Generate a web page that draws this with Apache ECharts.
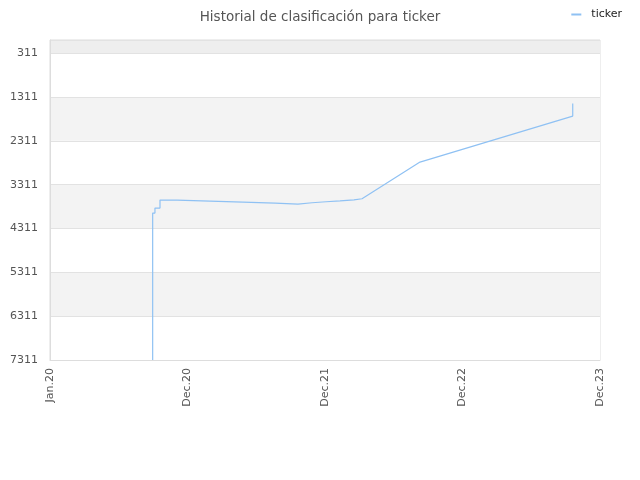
<!DOCTYPE html>
<html>
<head>
<meta charset="utf-8">
<script src="https://cdn.jsdelivr.net/npm/echarts@6/dist/echarts.min.js"></script>
<style>
    html, body { margin: 0; padding: 0; background: #fff; }
    #main { width: 640px; height: 480px; }
</style>
</head>
<body>
<div id="main"></div>
<script>
// months counted from Jan.20 (0) to Dec.23 (48)
var xTickLabels = ['Jan.20', 'Dec.20', 'Dec.21', 'Dec.22', 'Dec.23'];
var yTicks = [311, 1311, 2311, 3311, 4311, 5311, 6311, 7311];

// points of the ranking line: month, rank
var months = [8.96, 8.96, 9.16, 9.16, 9.6, 9.6, 11.08, 11.08, 13.96, 13.96, 16.84, 16.84,
    19.64, 19.64, 21.64, 21.64, 22.87, 22.87, 24.09, 24.09, 25.31, 25.31, 26.53, 26.53,
    27.23, 32.29, 45.62, 45.62];
var ranks = [7311, 3959, 3959, 3845, 3845, 3663, 3663, 3685, 3685, 3708, 3708, 3731,
    3731, 3754, 3754, 3724, 3724, 3701, 3701, 3679, 3679, 3656, 3656, 3633,
    3633, 2796, 1747, 1458];

(function () {
    "use strict";
    // rank 1 is best, so the axis carries -rank: ticks then count up from -7311
    var data = [];
    for (var i = 0; i < months.length; i++) {
        data.push([months[i], -ranks[i]]);
    }

    var myChart = echarts.init(document.getElementById('main'));
    var option = {
        animation: false,
        title: {
            text: 'Historial de clasificación para ticker',
            left: 'center',
            top: 5,
            textStyle: {
                fontFamily: 'DejaVu Sans',
                fontSize: 13.5,
                fontWeight: 'normal',
                color: '#555'
            }
        },
        legend: {
            right: 13,
            top: 4,
            icon: 'rect',
            itemWidth: 10,
            itemHeight: 2,
            textStyle: {fontFamily: 'DejaVu Sans', fontSize: 11, color: '#222', padding: [0, 0, 0, 5]},
            data: ['ticker']
        },
        grid: {
            left: 50,
            right: 40,
            top: 40,
            bottom: 120,
            show: true,
            borderColor: '#ddd',
            borderWidth: 1
        },
        xAxis: {
            type: 'value',
            min: 0,
            max: 48,
            interval: 12,
            axisLine: {lineStyle: {color: '#ddd'}},
            axisTick: {show: false},
            splitLine: {show: false},
            axisLabel: {
                rotate: 90,
                fontFamily: 'DejaVu Sans',
                fontSize: 11,
                color: '#555',
                margin: 8,
                formatter: function (v) {
                    return xTickLabels[Math.round(v / 12)] || '';
                }
            }
        },
        yAxis: {
            type: 'value',
            min: -yTicks[yTicks.length - 1],
            max: -11,
            interval: 1000,
            axisLine: {show: true, lineStyle: {color: '#ddd'}},
            axisTick: {show: false},
            splitLine: {lineStyle: {color: '#e2e2e2'}},
            splitArea: {
                show: true,
                areaStyle: {color: ['#ffffff', '#f3f3f3', '#ffffff', '#f3f3f3', '#ffffff', '#f3f3f3', '#ffffff', '#eeeeee']}
            },
            axisLabel: {
                fontFamily: 'DejaVu Sans',
                fontSize: 11,
                color: '#555',
                margin: 12,
                formatter: function (v) {
                    return yTicks.indexOf(-v) < 0 ? '' : String(-v);
                }
            }
        },
        series: [{
            name: 'ticker',
            type: 'line',
            showSymbol: false,
            symbol: 'none',
            color: '#8fc1f3',
            lineStyle: {width: 1.2, color: '#8fc1f3'},
            data: data
        }]
    };
    myChart.setOption(option);
})();
</script>
</body>
</html>
